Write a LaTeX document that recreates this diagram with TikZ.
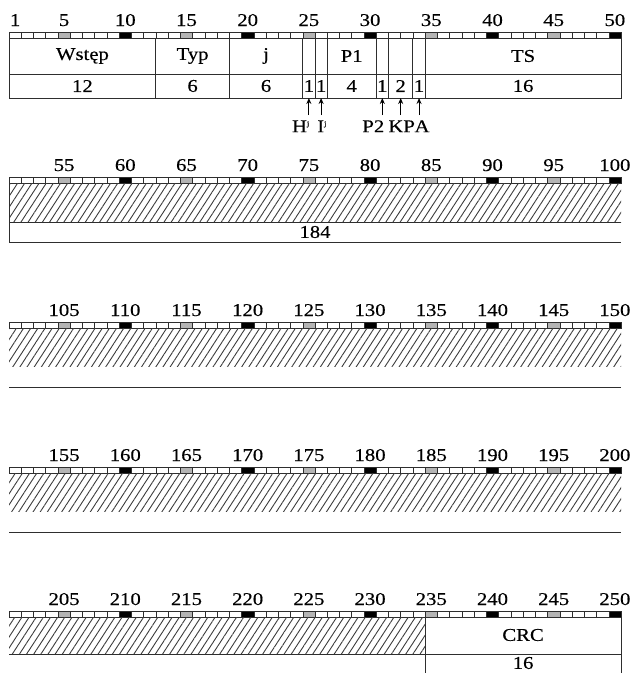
\documentclass[tikz,border=0pt]{standalone}
\usepackage{fontspec}
\setmainfont{Liberation Serif}[FakeStretch=1.15, FakeBold=0.4]
\usetikzlibrary{arrows.meta, positioning, patterns.meta}
\definecolor{frInk}{HTML}{2E2E2E}
\definecolor{frGrey}{HTML}{B4B4B4}
\definecolor{frHatch}{HTML}{3C3C3C}
\newcommand{\frcw}{12.24}  % width of one bit cell
\newcommand{\frx}{9}       % left edge of every row
\newcommand{\frxe}{621}    % right edge of every row
\newcommand{\frfont}{\fontsize{18}{20}\selectfont}
\tikzset{
  frline/.style={draw=frInk, line width=0.9pt},
  frtop/.style={
    frline, minimum height=36pt, inner sep=0pt, outer sep=0pt,
    anchor=north west, font=\frfont,
  },
  frbot/.style={frtop, minimum height=24pt},
  frnum/.style={anchor=base, inner sep=0pt, font=\frfont},
  frlabel/.style={inner sep=0pt, font=\frfont},
  frtag/.style={inner sep=0pt, text height=11pt, text depth=2pt, font=\frfont},
  frarrow/.style={
    -{Stealth[length=6pt, width=5pt]}, draw=black, line width=1pt,
    shorten <=6pt,
  },
  frhatch/.style={
    pattern={Lines[angle=57, distance=6pt, line width=0.9pt]},
    pattern color=frHatch,
  },
}
% ruler of 50 bits: #1 top edge, #2 number of the bit before the first one
\newcommand{\frruler}[2]{%
  \foreach \i in {1,...,50}{%
    \pgfmathsetmacro{\xa}{\frx+(\i-1)*\frcw}%
    \pgfmathsetmacro{\xb}{\frx+\i*\frcw}%
    \pgfmathtruncatemacro{\m}{mod(\i,10)}%
    \ifnum\m=0 \def\frfill{black}\else
      \ifnum\m=5 \def\frfill{frGrey}\else\def\frfill{white}\fi\fi
    \filldraw[fill=\frfill, draw=frInk, line width=0.5pt]
      (\xa,#1) rectangle (\xb,#1+6);
  }
  \draw[frline] (\frx,#1) rectangle (\frxe,#1+6);
  \foreach \i in {5,10,...,50}{%
    \pgfmathtruncatemacro{\bitno}{#2+\i}%
    \node[frnum] (bit\bitno) at ({\frx+(\i-0.5)*\frcw},#1-6) {\bitno};
  }
}
% field of the header: #1 name, #2 first bit, #3 bits, #4 upper text, #5 lower text
\newcommand{\frfield}[5]{%
  \node[frtop, minimum width={#3*\frcw}] (#1-top) at ({\frx+(#2-1)*\frcw},38) {#4};%
  \node[frbot, minimum width={#3*\frcw}] (#1-bot) at (#1-top.south west) {#5};%
}

\begin{document}
\begin{tikzpicture}[x=1pt, y=-1pt]
\useasboundingbox (0,0) rectangle (631,673);

% Row 1 -------------------------------------------------------------------
\frruler{32}{0}
\node[frnum] (bit1) at ({\frx+0.5*\frcw},26) {1};

\frfield{wst}{1}{12}{Wstęp}{12}
\frfield{typ}{13}{6}{Typ}{6}
\frfield{j}{19}{6}{j}{6}
\frfield{h}{25}{1}{}{1}
\frfield{i}{26}{1}{}{1}
\frfield{pa}{27}{4}{P1}{4}
\frfield{pb}{31}{1}{}{1}
\frfield{kp}{32}{2}{}{2}
\frfield{a}{34}{1}{}{1}
\frfield{ts}{35}{16}{TS}{16}

% the tags under the one-bit fields sit a little off their arrows
\node[frtag, below=23pt of h-bot, xshift=-8pt] (h-tag) {H\textsuperscript{\scriptsize j}};
\node[frtag, below=23pt of i-bot, xshift=1pt] (i-tag) {I\textsuperscript{\scriptsize j}};
\node[frtag, below=23pt of pb-bot, xshift=-9pt] (pb-tag) {P2};
\node[frtag, below=23pt of kp-bot, xshift=1pt] (kp-tag) {KP};
\node[frtag, below=23pt of a-bot, xshift=3pt] (a-tag) {A};
\foreach \f in {h, i, pb, kp, a}{%
  \draw[frarrow] (\f-tag.north -| \f-bot.south) -- (\f-bot.south);
}

% Row 2 -------------------------------------------------------------------
\frruler{177}{50}
\fill[frhatch] (\frx,183) rectangle (\frxe,222);
\draw[frline] (\frx,177) -- (\frx,242) -- (\frxe,242) (\frx,222) -- (\frxe,222);
\node[frlabel] (data) at (315,232) {184};

% Row 3 -------------------------------------------------------------------
\frruler{322}{100}
\fill[frhatch] (\frx,328) rectangle (\frxe,366);
\draw[frline] (\frx,387) -- (\frxe,387);

% Row 4 -------------------------------------------------------------------
\frruler{467}{150}
\fill[frhatch] (\frx,473) rectangle (\frxe,511);
\draw[frline] (\frx,532) -- (\frxe,532);

% Row 5 -------------------------------------------------------------------
\frruler{611}{200}
\fill[frhatch] (\frx,617) rectangle ({\frx+34*\frcw},654);
\draw[frline] (\frx,654) -- (\frxe,654);
\draw[frline] ({\frx+34*\frcw},617) -- ({\frx+34*\frcw},680)
  (\frxe,617) -- (\frxe,680);
\node[frlabel] (crc) at ({\frx+42*\frcw},635) {CRC};
\node[frlabel] (crc-len) at ({\frx+42*\frcw},663) {16};

\end{tikzpicture}
\end{document}
